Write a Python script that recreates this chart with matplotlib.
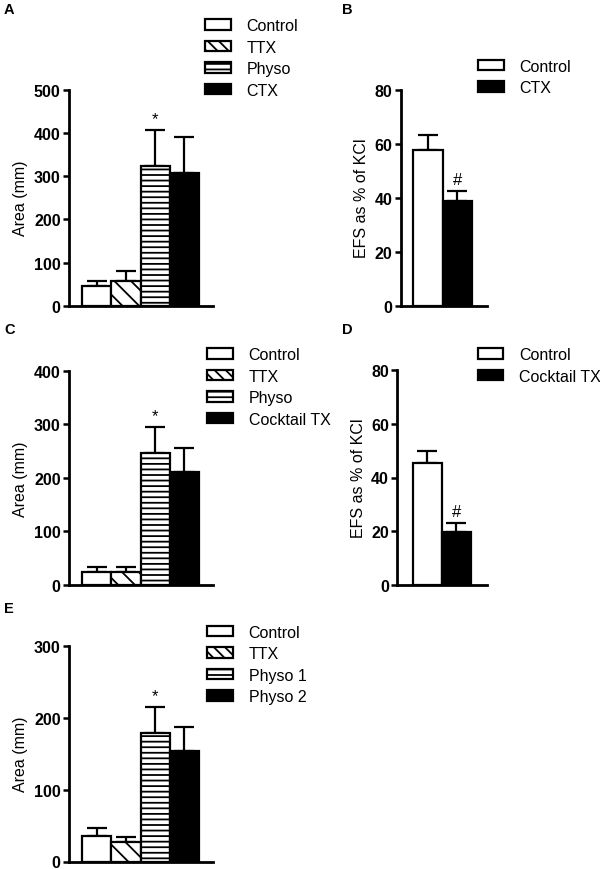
import matplotlib
matplotlib.use("Agg")
import matplotlib.pyplot as plt
import numpy as np
from matplotlib.patches import Patch

plt.rcParams['font.family'] = ['Liberation Sans', 'DejaVu Sans']
plt.rcParams['hatch.linewidth'] = 1.3

# ---- data ----
a_labels = ['Control', 'TTX', 'Physo', 'CTX']
a_means = [45, 58, 324, 307]
a_sems = [13, 23, 83, 84]

b_labels = ['Control', 'CTX']
b_means = [57.5, 38.7]
b_sems = [5.6, 3.8]

c_labels = ['Control', 'TTX', 'Physo', 'Cocktail TX']
c_means = [25, 24, 247, 210]
c_sems = [8, 9, 47, 45]

d_labels = ['Control', 'Cocktail TX']
d_means = [45.3, 19.6]
d_sems = [4.7, 3.5]

e_labels = ['Control', 'TTX', 'Physo 1', 'Physo 2']
e_means = [36, 27, 179, 154]
e_sems = [10, 7, 36, 33]

a_ticks = [0, 100, 200, 300, 400, 500]
b_ticks = [0, 20, 40, 60, 80]
c_ticks = [0, 100, 200, 300, 400]
e_ticks = [0, 100, 200, 300]

four_hatch = ['', '\\\\', '---', '']
four_legend_hatch = ['', '\\\\\\', '---', '']
four_face = ['white', 'white', 'white', 'black']
two_hatch = ['', '']
two_face = ['white', 'black']

W, H = 600, 870
fig = plt.figure(figsize=(6, 8.7), dpi=100)


def px_axes(left, right, top, bottom):
    return fig.add_axes([left / W, 1 - bottom / H, (right - left) / W, (bottom - top) / H])


def draw_panel(ax, means, sems, hatches, faces, ticks, ylabel, xlim, mark_idx, mark):
    x = np.arange(len(means))
    for i in range(len(means)):
        ax.bar(x[i], means[i], width=1.0, color=faces[i], edgecolor='black',
               hatch=hatches[i], linewidth=1.6, zorder=3)
    ax.errorbar(x, means, yerr=[np.zeros(len(sems)), sems], fmt='none',
                ecolor='black', elinewidth=1.6, capsize=7.5, capthick=1.6, zorder=2)
    ax.set_xlim(*xlim)
    ax.set_ylim(0, ticks[-1])
    ax.set_yticks(ticks)
    ax.set_yticklabels([str(t) for t in ticks], fontweight='bold', fontsize=11.5)
    ax.set_xticks([])
    for s in ['top', 'right']:
        ax.spines[s].set_visible(False)
    for s in ['left', 'bottom']:
        ax.spines[s].set_linewidth(2.0)
    ax.tick_params(axis='y', direction='out', length=4, width=1.8, pad=2)
    ax.set_ylabel(ylabel, fontsize=11.5, labelpad=4)
    ax.annotate(mark, xy=(x[mark_idx], means[mark_idx] + sems[mark_idx]),
                xytext=(0, 3), textcoords='offset points', ha='center', va='bottom',
                fontsize=12)


def draw_legend(labels, hatches, faces, left, top):
    handles = [Patch(facecolor=faces[i], edgecolor='black', hatch=hatches[i], linewidth=1.6)
               for i in range(len(labels))]
    fig.legend(handles, labels, loc='upper left', bbox_to_anchor=(left / W, 1 - top / H),
               frameon=False, fontsize=11.5, handlelength=1.6, handleheight=0.62,
               handletextpad=1.0, labelspacing=0.41, borderpad=0, borderaxespad=0)


# Panel A
axA = px_axes(69, 213, 90.7, 306.7)
draw_panel(axA, a_means, a_sems, four_hatch, four_face, a_ticks, 'Area (mm)',
           (-0.948, 3.98), 2, '*')
draw_legend(a_labels, four_legend_hatch, four_face, 205, 19)

# Panel B
axB = px_axes(401, 486.7, 90.7, 306.7)
draw_panel(axB, b_means, b_sems, two_hatch, two_face, b_ticks, 'EFS as % of KCl',
           (-0.893, 1.98), 1, '#')
draw_legend(b_labels, two_hatch, two_face, 478, 59.5)

# Panel C
axC = px_axes(69, 213, 371.7, 586)
draw_panel(axC, c_means, c_sems, four_hatch, four_face, c_ticks, 'Area (mm)',
           (-0.948, 3.98), 2, '*')
draw_legend(c_labels, four_legend_hatch, four_face, 207, 348)

# Panel D
axD = px_axes(397.3, 486.7, 371, 586)
draw_panel(axD, d_means, d_sems, two_hatch, two_face, b_ticks, 'EFS as % of KCl',
           (-1.03, 2.04), 1, '#')
draw_legend(d_labels, two_hatch, two_face, 477.7, 348)

# Panel E
axE = px_axes(69, 213, 646.7, 862.5)
draw_panel(axE, e_means, e_sems, four_hatch, four_face, e_ticks, 'Area (mm)',
           (-0.948, 3.98), 2, '*')
draw_legend(e_labels, four_legend_hatch, four_face, 207, 625.5)

# Panel letters
for letter, (lx, ly) in {'A': (4, 10), 'B': (342, 10), 'C': (4, 330),
                         'D': (342, 330), 'E': (4, 609)}.items():
    fig.text(lx / W, 1 - ly / H, letter, fontsize=10.5, fontweight='bold',
             ha='left', va='center')

fig.savefig('out.png', dpi=100)
